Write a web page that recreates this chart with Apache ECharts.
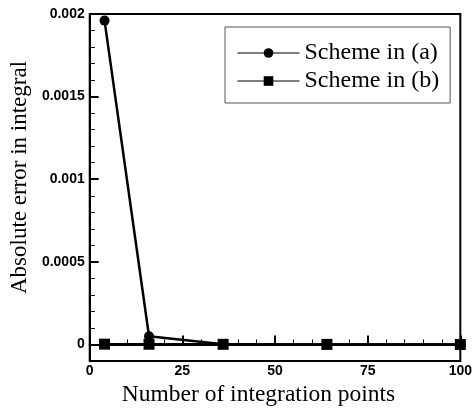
<!DOCTYPE html>
<html>
<head>
<meta charset="utf-8">
<script src="https://cdn.jsdelivr.net/npm/echarts@6/dist/echarts.min.js"></script>
<style>
  html, body { margin: 0; padding: 0; background: #fff; }
  #chart { width: 475px; height: 416px; }
</style>
</head>
<body>
<div id="chart"></div>
<script>
// Integration points used by each scheme
const pointsA = [4, 16, 36, 64, 100];
const pointsB = [4, 16, 36, 64, 100];
// Absolute error in the computed integral
const errorA = [0.00196, 0.00005, 0.000002, 0.0000005, 0.0000001];
const errorB = [0.000002, 0.0000015, 0.000001, 0.0000005, 0.0000001];
// Labelled y ticks and the fine ticks between them
const yMajorTicks = [0, 0.0005, 0.001, 0.0015, 0.002];
const yMinorTicks = [-0.0001, 0.0001, 0.0002, 0.0003, 0.0004, 0.0006, 0.0007, 0.0008, 0.0009,
  0.0011, 0.0012, 0.0013, 0.0014, 0.0016, 0.0017, 0.0018, 0.0019];
const seriesNames = ['Scheme in (a)', 'Scheme in (b)'];

const serif = '"Liberation Serif", "Times New Roman", serif';
const sans = '"Liberation Sans", Arial, sans-serif';

const chart = echarts.init(document.getElementById('chart'), null, { renderer: 'canvas' });

const yFormatter = v => {
  if (v === 0) return '0';
  return String(Number(v.toFixed(4)));
};

chart.setOption({
  animation: false,
  backgroundColor: '#fff',
  grid: {
    left: 87, right: 9, top: 14, bottom: 55,
    show: true, borderColor: '#000', borderWidth: 2, backgroundColor: 'transparent'
  },
  legend: {
    data: seriesNames,
    orient: 'vertical',
    left: 225, top: 27,
    padding: [14, 11, 10, 12],
    itemWidth: 62, itemHeight: 12, itemGap: 4,
    borderColor: '#555', borderWidth: 1,
    lineStyle: { width: 1 },
    textStyle: { fontFamily: serif, fontSize: 24, lineHeight: 24, color: '#000' }
  },
  xAxis: {
    type: 'value',
    min: 0, max: 100, interval: 25,
    name: 'Number of integration points',
    nameLocation: 'middle', nameGap: 22,
    nameTextStyle: { fontFamily: serif, fontSize: 23.5, color: '#000', padding: [0, 33, 0, 0],
      verticalAlign: 'top' },
    axisLine: { show: true, lineStyle: { color: '#000', width: 2 } },
    axisTick: { show: true, inside: true, length: 9, lineStyle: { color: '#000', width: 2 } },
    minorTick: { show: true, splitNumber: 5, length: 5, lineStyle: { color: '#000', width: 1 } },
    axisLabel: { fontFamily: sans, fontWeight: 'bold', fontSize: 14, color: '#000', margin: 3 },
    splitLine: { show: false }
  },
  yAxis: [{
    type: 'value',
    min: -0.0001, max: 0.002,
    name: 'Absolute error in integral',
    nameLocation: 'middle', nameGap: 57,
    nameTextStyle: { fontFamily: serif, fontSize: 23, color: '#000', padding: [0, 0, 0, 20] },
    axisLine: { show: true, lineStyle: { color: '#000', width: 2 } },
    axisTick: { show: true, inside: true, length: 9, customValues: yMajorTicks,
      lineStyle: { color: '#000', width: 2 } },
    axisLabel: { fontFamily: sans, fontWeight: 'bold', fontSize: 14, color: '#000', margin: 5,
      customValues: yMajorTicks, formatter: yFormatter },
    splitLine: { show: false }
  }, {
    type: 'value',
    position: 'left',
    min: -0.0001, max: 0.002,
    axisLine: { show: false },
    axisTick: { show: true, inside: true, length: 5, customValues: yMinorTicks,
      lineStyle: { color: '#000', width: 1 } },
    axisLabel: { show: false },
    splitLine: { show: false }
  }],
  series: [{
    name: seriesNames[0],
    type: 'line',
    data: pointsA.map((x, i) => [x, errorA[i]]),
    symbol: 'circle', symbolSize: 10,
    lineStyle: { color: '#000', width: 2.5 },
    itemStyle: { color: '#000' },
    z: 2
  }, {
    name: seriesNames[1],
    type: 'line',
    data: pointsB.map((x, i) => [x, errorB[i]]),
    symbol: 'rect', symbolSize: 11,
    lineStyle: { color: '#000', width: 2.5 },
    itemStyle: { color: '#000' },
    z: 3
  }]
});
</script>
</body>
</html>
